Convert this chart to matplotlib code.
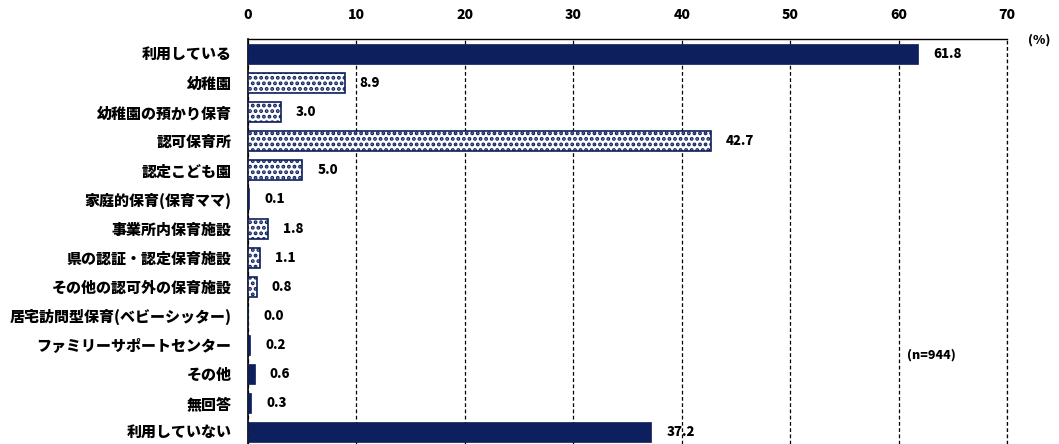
import matplotlib.pyplot as plt
import matplotlib as mpl
import numpy as np

plt.rcParams['font.family'] = ['Noto Sans CJK JP', 'DejaVu Sans']
mpl.rcParams['hatch.linewidth'] = 1.9

# データ
categories = ['利用している', '幼稚園', '幼稚園の預かり保育', '認可保育所', '認定こども園',
              '家庭的保育(保育ママ)', '事業所内保育施設', '県の認証・認定保育施設',
              'その他の認可外の保育施設', '居宅訪問型保育(ベビーシッター)',
              'ファミリーサポートセンター', 'その他', '無回答', '利用していない']
values = [61.8, 8.9, 3.0, 42.7, 5.0, 0.1, 1.8, 1.1, 0.8, 0.0, 0.2, 0.6, 0.3, 37.2]
patterned = [False, True, True, True, True, True, True, True, True, True,
             False, False, False, False]

navy = '#0d1f5c'

fig = plt.figure(figsize=(10.59, 4.44), dpi=100)
ax = fig.add_axes([0.2342, 0.0, 0.951 - 0.2342, 0.912])

y = np.arange(len(categories))
for yi, v, p in zip(y, values, patterned):
    if p:
        ax.barh(yi, v, height=0.69, color='white', edgecolor=navy,
                hatch='...', linewidth=1.2, zorder=3)
    else:
        ax.barh(yi, v, height=0.69, color=navy, edgecolor=navy,
                linewidth=0.5, zorder=3)
    ax.text(v + 1.4, yi, f'{v:.1f}', va='center', ha='left',
            fontsize=9.5, fontweight='heavy', zorder=4)

ax.set_xlim(0, 70)
ax.set_ylim(13.41, -0.516)
ax.set_yticks(y)
ax.set_yticklabels(categories, fontsize=10.8, fontweight='heavy')
ax.set_xticks(np.arange(0, 71, 10))
ax.xaxis.tick_top()
ax.tick_params(axis='x', length=0, labelsize=10, pad=12)
ax.tick_params(axis='y', length=0, pad=12)
for lbl in ax.get_xticklabels():
    lbl.set_fontweight('heavy')

ax.grid(axis='x', color='black', linestyle=(0, (3, 2)), linewidth=0.9, zorder=1)
ax.axvline(70, color='black', linestyle=(0, (3, 2)), linewidth=0.9, zorder=1,
           clip_on=False)
ax.spines['bottom'].set_visible(False)
ax.spines['right'].set_visible(False)
ax.spines['top'].set_linewidth(1.0)
ax.spines['left'].set_linewidth(1.2)

ax.text(60.8, 10.35, '(n=944)', fontsize=9, fontweight='heavy', va='center')
fig.text(0.992, 0.91, '(%)', fontsize=9, fontweight='heavy', ha='right', va='center')

fig.savefig('out.png', dpi=100)
